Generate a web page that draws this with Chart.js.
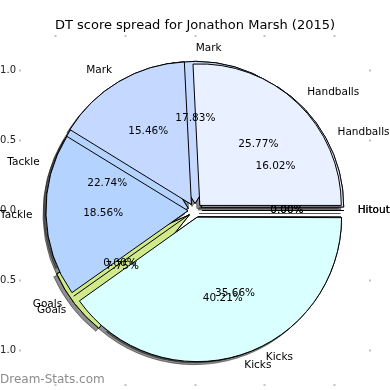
<!DOCTYPE html>
<html>
<head>
<meta charset="utf-8">
<script src="https://cdn.jsdelivr.net/npm/chart.js@4.4.1/dist/chart.umd.min.js"></script>
<style>
  html, body { margin: 0; padding: 0; background: #fff; }
  body { width: 390px; height: 390px; overflow: hidden; position: relative; }
  canvas { position: absolute; left: -20px; top: 0; }
</style>
</head>
<body>
<canvas id="under" width="410" height="420"></canvas>
<canvas id="over" width="410" height="420"></canvas>
<script>
const chartTitle = 'DT score spread for Jonathon Marsh (2015)';
const watermark = 'Dream-Stats.com';

// slices in matplotlib order (counter-clockwise from 3 o'clock)
const categories = ['Hitout', 'Handballs', 'Mark', 'Tackle', 'Goals', 'Kicks'];
const spreadUnder = [0, 16.02, 17.83, 22.74, 7.75, 35.66];
const spreadOver = [0, 25.77, 15.46, 18.56, 0, 40.21];
const axisTicks = [-1, -0.5, 0, 0.5, 1];

const sliceColors = ['#f6e3c6', '#e9f0ff', '#c5d8ff', '#b4d4ff', '#d0e98b', '#d9ffff'];

const UNIT = 140;       // px for one axis unit
const RADIUS = 141.5;
const EXPLODE = 0.05;
const LIM_X = 1.243;
const LIM_Y = 1.239;

// chart.js goes clockwise, so flip everything
const cw = arr => arr.slice().reverse();

function pieDataset(values) {
    return {
        data: cw(values),
        backgroundColor: cw(sliceColors),
        borderColor: '#000',
        borderWidth: 1,
        borderJoinStyle: 'miter',
        offset: UNIT * EXPLODE * 4,   // ArcElement moves by offset / 4
        radius: RADIUS,
        clip: false
    }
}

function zeroWedge(ctx, arc) {
    const a = arc.startAngle
    const off = arc.options.offset / 4
    const c = Math.cos(a), s = Math.sin(a)
    ctx.save()
    ctx.strokeStyle = arc.options.borderColor
    ctx.lineWidth = arc.options.borderWidth
    ctx.beginPath()
    ctx.moveTo(arc.x + c * off, arc.y + s * off)
    ctx.lineTo(arc.x + c * (off + arc.outerRadius), arc.y + s * (off + arc.outerRadius))
    ctx.stroke()
    ctx.restore()
}

// both pies, filled once they exist; shadows sit under every wedge
const pies = [];

const shadowPlugin = {
    id: 'wedgeShadow',
    beforeDatasetsDraw(chart) {
        const ctx = chart.ctx
        ctx.save()
        ctx.shadowColor = 'rgba(30,30,30,0.5)'
        ctx.shadowOffsetX = -3
        ctx.shadowOffsetY = 3
        pies.forEach(c => {
            c.getDatasetMeta(0).data.forEach(arc => {
                if (arc.circumference > 0) arc.draw(ctx)
                else zeroWedge(ctx, arc)
            })
        })
        ctx.restore()
    }
}

const zeroPlugin = {
    id: 'zeroWedges',
    afterDatasetDraw(chart, args) {
        args.meta.data.forEach(arc => {
            if (arc.circumference === 0) zeroWedge(chart.ctx, arc)
        })
    }
}

let underChart;

const labelPlugin = {
    id: 'wedgeLabels',
    afterDraw(chart) {
        const ctx = chart.ctx
        ctx.save()
        ctx.fillStyle = '#000'
        ctx.font = '10.5px "DejaVu Sans"'
        ctx.textBaseline = 'middle';
        [underChart, chart].forEach(c => {
            const meta = c.getDatasetMeta(0)
            const values = c.data.datasets[0].data
            const total = values.reduce((a, b) => a + b, 0)
            meta.data.forEach((arc, i) => {
                const mid = (arc.startAngle + arc.endAngle) / 2
                const off = arc.options.offset / 4
                const dx = Math.cos(mid), dy = Math.sin(mid)
                const rl = arc.outerRadius * 1.1 + off
                ctx.textAlign = dx > 0 ? 'left' : 'right'
                ctx.fillText(c.data.labels[i], arc.x + dx * rl, arc.y + dy * rl)
                const rp = arc.outerRadius * 0.6 + off
                ctx.textAlign = 'center'
                ctx.fillText((values[i] / total * 100).toFixed(2) + '%', arc.x + dx * rp, arc.y + dy * rp)
            })
        })
        ctx.fillStyle = '#8c8c8c'
        ctx.font = '12px "DejaVu Sans"'
        ctx.textAlign = 'left'
        ctx.fillText(watermark, 20, 380)
        ctx.restore()
    }
}

const tickFont = { family: 'DejaVu Sans', size: 10 }

function axisOptions(position, limit, size, showLabels) {
    return {
        type: 'linear',
        axis: (position === 'top' || position === 'bottom') ? 'x' : 'y',
        position: position,
        min: -limit,
        max: limit,
        afterBuildTicks: s => { s.ticks = axisTicks.map(v => ({ value: v })) },
        afterFit: s => {
            if (s.isHorizontal()) s.height = size
            else s.width = size
        },
        grid: {
            drawOnChartArea: false,
            drawTicks: true,
            tickLength: 2,
            tickWidth: 2,
            color: '#c4c4c4'
        },
        border: { display: false },
        ticks: {
            display: showLabels,
            padding: 3,
            color: '#222',
            font: tickFont,
            maxRotation: 0,
            autoSkip: false,
            callback: v => v < 0 ? '\u2212' + Math.abs(v).toFixed(1) : v.toFixed(1)
        }
    }
}

window.onload = () => {
    underChart = new Chart(document.getElementById('under'), {
        type: 'pie',
        data: { labels: cw(categories), datasets: [pieDataset(spreadUnder)] },
        options: {
            responsive: false,
            animation: false,
            rotation: 90,
            layout: { padding: 0, autoPadding: false },
            plugins: {
                legend: { display: false },
                tooltip: { enabled: false },
                title: {
                    display: true,
                    text: chartTitle,
                    fullSize: false,
                    color: '#000',
                    font: { family: 'DejaVu Sans', size: 13, weight: 'normal', lineHeight: 1.2 },
                    padding: { top: 17.4, bottom: 0 }
                }
            },
            scales: {
                x: axisOptions('bottom', LIM_X, 36, true),
                x2: axisOptions('top', LIM_X, 4, false),
                y: axisOptions('left', LIM_Y, 41, true),
                y2: axisOptions('right', LIM_Y, 21, false)
            }
        },
        plugins: [shadowPlugin, zeroPlugin]
    })

    const overChart = new Chart(document.getElementById('over'), {
        type: 'pie',
        data: { labels: cw(categories), datasets: [pieDataset(spreadOver)] },
        options: {
            responsive: false,
            animation: false,
            rotation: 90,
            layout: { padding: { left: 41, right: 21, top: 37, bottom: 36 }, autoPadding: false },
            plugins: {
                legend: { display: false },
                tooltip: { enabled: false }
            }
        },
        plugins: [zeroPlugin, labelPlugin]
    })

    pies.push(underChart, overChart)
    underChart.draw()
}
</script>
</body>
</html>
